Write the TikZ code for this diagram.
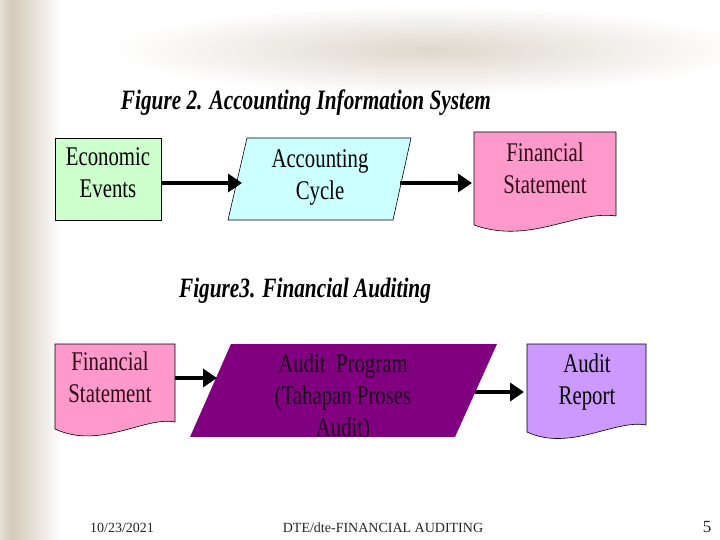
\documentclass[tikz,border=0pt]{standalone}
\usepackage{fontspec}
\usepackage{graphicx}
\setmainfont{Liberation Serif}
\newfontfamily\titlefont{Liberation Serif}[FakeStretch=0.76]
\usetikzlibrary{arrows.meta}

\definecolor{eventgreen}{HTML}{CCFFCC}
\definecolor{cyclecyan}{HTML}{CCFFFF}
\definecolor{stmtpink}{HTML}{FF99CC}
\definecolor{auditpurple}{HTML}{800080}
\definecolor{reportlilac}{HTML}{CC99FF}
\definecolor{slidetan}{HTML}{D3CBBB}
\definecolor{inkmaroon}{HTML}{2B0A14}
\definecolor{inkplum}{HTML}{1A0018}

% condensed multi-line box text
\newcommand{\boxstack}[1]{\scalebox{0.77}[1]{\begin{tabular}{@{}c@{}}#1\end{tabular}}}

\tikzset{
  flowarrow/.style={line width=4.5pt, -{Triangle[length=14pt,width=18pt]}},
  boxlabel/.style={font=\fontsize{27}{32}\selectfont, inner sep=0pt},
  figtitle/.style={font=\titlefont\bfseries\itshape\fontsize{28}{30}\selectfont, inner sep=0pt},
  footer/.style={font=\fontsize{14}{16}\selectfont, text=black!85, inner sep=0pt},
  outline/.style={draw=black, line width=0.6pt},
}

\begin{document}
\begin{tikzpicture}[x=1pt, y=-1pt]
  \useasboundingbox (0,0) rectangle (720,540);

  % slide background
  \fill[white] (0,0) rectangle (720,540);
  \shade[inner color=slidetan!75, outer color=white] (430,50) ellipse (320 and 45);
  \shade[left color=slidetan!60, right color=slidetan] (0,0) rectangle (12,540);
  \shade[left color=slidetan, right color=white] (12,0) rectangle (62,540);

  % Figure 2
  \node[figtitle] (fig2) at (306,103) {Figure 2. Accounting Information System};

  \node[outline, fill=eventgreen, minimum width=106pt, minimum height=82pt] (events) at (108,179) {};
  \node[boxlabel] (events-text) at (108,175) {\boxstack{Economic\\Events}};

  \filldraw[fill=cyclecyan, line width=0.6pt] (247,138) -- (411,138) -- (393,220) -- (228,220) -- cycle;
  \node[boxlabel] (cycle) at (320,177) {\boxstack{Accounting\\Cycle}};

  \filldraw[fill=stmtpink, line width=0.6pt] (474,132) -- (616,132) -- (616,216)
    .. controls (575,210) and (530,245) .. (474,225) -- cycle;
  \node[boxlabel, text=inkmaroon] (stmt) at (545,171) {\boxstack{Financial\\Statement}};

  \coordinate (cycle-in) at (242,183);
  \coordinate (cycle-out) at (400,183);
  \coordinate (stmt-in) at (472,183);
  \draw[flowarrow] (events.east |- cycle-in) -- (cycle-in);
  \draw[flowarrow] (cycle-out) -- (stmt-in);

  % Figure 3
  \node[figtitle] (fig3) at (305,291) {Figure3. Financial Auditing};

  \filldraw[fill=stmtpink, line width=0.6pt] (55,344) -- (175,344) -- (175,422)
    .. controls (145,416) and (100,450) .. (55,429) -- cycle;
  \node[boxlabel, text=inkmaroon] (stmt2) at (110,380) {\boxstack{Financial\\Statement}};

  \fill[auditpurple] (231,344) -- (497,344) -- (455,437) -- (190,437) -- cycle;
  \node[boxlabel, text=inkplum] (program) at (343,398) {\boxstack{Audit~ Program\\(Tahapan Proses\\Audit)}};
  % cut the last line off at the bottom edge
  \fill[white] (185,437.3) rectangle (500,450);

  \filldraw[fill=reportlilac, line width=0.6pt] (527,344) -- (646,344) -- (646,425)
    .. controls (615,419) and (570,452) .. (527,432) -- cycle;
  \node[boxlabel] (report) at (587,382) {\boxstack{Audit\\Report}};

  \coordinate (stmt2-out) at (175,378);
  \coordinate (program-in) at (217,378);
  \coordinate (program-out) at (475,392);
  \coordinate (report-in) at (524,392);
  \draw[flowarrow] (stmt2-out) -- (program-in);
  \draw[flowarrow] (program-out) -- (report-in);

  % footer
  \node[footer] (date) at (122,528) {10/23/2021};
  \node[footer] (course) at (383,528) {DTE/dte-FINANCIAL AUDITING};
  \node[footer, font=\fontsize{17}{18}\selectfont] (page) at (707,527) {5};
\end{tikzpicture}
\end{document}
